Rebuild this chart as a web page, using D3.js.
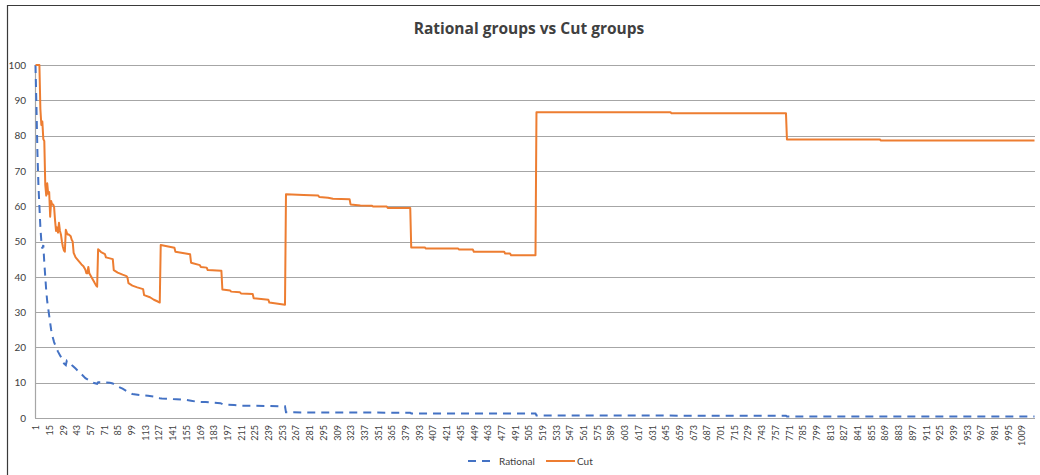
<!DOCTYPE html>
<html>
<head>
<meta charset="utf-8">
<script src="https://cdn.jsdelivr.net/npm/d3@7"></script>
<style>
  body { margin: 0; background: #fff; }
  svg text { font-family: Lato, "Open Sans", sans-serif; fill: #404040; }
</style>
</head>
<body>
<svg id="chart" width="1040" height="475"></svg>
<script>
// number of categories on the x axis
var nCats = 1022;

// Cut series (category index / value)
var cutIdx = [1, 5, 6, 7, 8, 9, 10, 11, 12, 13, 14, 15, 16, 17, 18, 19, 20, 21, 22, 23, 24, 25, 26, 27, 28, 29, 30, 31,
  32, 33, 34, 35, 37, 38, 39, 40, 42, 45, 48, 50, 52, 53, 54, 55, 56, 57, 59, 61, 62, 63, 64,
  65, 68, 72, 73, 80, 81, 85, 90, 94, 95, 96, 100, 105, 111, 112, 118, 122, 126, 128,
  129, 143, 144, 159, 160, 169, 170, 176, 177, 191, 192, 200, 201, 210, 211, 223, 224, 239, 240, 256,
  257, 275, 290, 291, 300, 305, 322, 323, 333, 345, 346, 360, 361, 384,
  385, 399, 400, 433, 434, 448, 449, 480, 481, 486, 487, 512,
  513, 650, 651, 768, 769, 864, 865, 1022];
var cutVal = [100, 100, 87.5, 83, 84, 79, 78.5, 66, 63, 66.5, 63.5, 64, 57, 61.5, 60.5, 60.5, 59.8, 56, 53, 54, 52.5, 55.3, 53, 52, 50, 48.5, 47.5, 47.1,
  53.3, 52.5, 52, 52, 51.5, 50.5, 50, 46.8, 45.5, 44.5, 43.5, 43, 42, 41, 41, 42.8, 41, 40.5, 39.5, 38.5, 38, 37.5, 37.2,
  47.8, 47, 46.4, 45.5, 45, 41.9, 41.2, 40.6, 40.2, 39.8, 38.2, 37.5, 37, 36.5, 34.8, 34.2, 33.5, 33, 32.7,
  49, 48.2, 47.1, 46.4, 44, 43.3, 42.8, 42.6, 41.9, 41.7, 36.4, 36.1, 35.8, 35.6, 35.3, 35.1, 33.9, 33.5, 32.7, 32.1,
  63.4, 63.2, 63.0, 62.6, 62.4, 62.1, 62.0, 60.5, 60.2, 60.1, 59.9, 59.9, 59.5, 59.5,
  48.3, 48.3, 48.0, 48.0, 47.7, 47.7, 47.1, 47.1, 46.6, 46.6, 46.1, 46.1,
  86.6, 86.6, 86.3, 86.3, 78.9, 78.9, 78.6, 78.6];

// Rational series
var ratIdx = [1, 2, 3, 4, 5, 6, 7, 8, 9, 10, 11, 12, 13, 14, 15, 16, 17, 18, 19, 20, 22, 24, 26, 28, 30, 32,
  33, 35, 38, 42, 45, 48, 52, 56, 60, 64,
  65, 70, 77, 80, 83, 90, 95, 100, 108, 116, 124, 128,
  130, 145, 155, 160, 166, 175, 190, 193, 204, 212, 220, 240, 256,
  257, 384, 385, 512, 513, 768, 769, 1022];
var ratVal = [100, 88, 75, 66, 60, 54, 50, 48, 49, 44, 40, 36, 33, 31, 29, 27, 25, 23.5, 22.5, 21.5, 20, 18.8, 17.8, 16.8, 15.5, 15.0,
  16.2, 15.8, 15, 14, 13.2, 12.4, 11.3, 10.6, 10.0, 9.7,
  10.1, 10.1, 10.0, 9.8, 9.2, 8.3, 7.5, 6.8, 6.5, 6.3, 6.0, 5.6,
  5.5, 5.3, 5.1, 4.9, 4.6, 4.5, 4.2, 3.8, 3.7, 3.5, 3.5, 3.4, 3.3,
  1.6, 1.5, 1.3, 1.3, 0.7, 0.65, 0.4, 0.4];

var yTicks = [0, 10, 20, 30, 40, 50, 60, 70, 80, 90, 100];
var xTickStep = 14;
var seriesNames = ["Rational", "Cut"];
var seriesColors = {"Rational": "#4472c4", "Cut": "#ed7d31"};

function draw() {
    var svg = d3.select("#chart");
    var left = 35, right = 1035, plotTop = 65, bottom = 418;

    // outer chart frame (only top and left edges show in the picture)
    svg.append("line")
        .attr("x1", 7.5).attr("x2", 1040)
        .attr("y1", 5.5).attr("y2", 5.5)
        .attr("stroke", "#3a3a3a")
        .attr("stroke-width", 1.2);
    svg.append("line")
        .attr("x1", 7.5).attr("x2", 7.5)
        .attr("y1", 5).attr("y2", 475)
        .attr("stroke", "#3a3a3a")
        .attr("stroke-width", 1.2);

    var x = d3.scaleLinear().domain([0.5, nCats + 0.5]).range([left, right]);
    var y = d3.scaleLinear().domain([0, 100]).range([bottom, plotTop]);

    // gridlines
    svg.append("g")
        .selectAll("line")
        .data(yTicks)
        .enter()
        .append("line")
        .attr("x1", left).attr("x2", right)
        .attr("y1", d => Math.round(y(d)) + 0.5)
        .attr("y2", d => Math.round(y(d)) + 0.5)
        .attr("stroke", "#a6a6a6")
        .attr("stroke-width", 1.2);

    // value axis line
    svg.append("line")
        .attr("x1", left + 0.5).attr("x2", left + 0.5)
        .attr("y1", plotTop).attr("y2", bottom)
        .attr("stroke", "#a6a6a6")
        .attr("stroke-width", 1.2);

    // y axis labels
    var yAxis = d3.axisLeft(y).tickValues(yTicks).tickSize(0).tickPadding(9);
    svg.append("g")
        .attr("transform", "translate(" + left + ",0)")
        .call(yAxis)
        .call(g => g.select(".domain").remove())
        .selectAll("text")
        .style("font-size", "10px")
        .style("font-family", "Lato, sans-serif")
        .attr("fill", "#404040");

    // x axis labels, rotated
    var xAxis = d3.axisBottom(x)
        .tickValues(d3.range(1, nCats + 1, xTickStep))
        .tickSize(0)
        .tickFormat(d3.format("d"));
    svg.append("g")
        .attr("transform", "translate(0," + bottom + ")")
        .call(xAxis)
        .call(g => g.select(".domain").remove())
        .selectAll("text")
        .style("font-size", "9px")
        .style("font-family", "Lato, sans-serif")
        .attr("fill", "#404040")
        .attr("text-anchor", "end")
        .attr("transform", "rotate(-90)")
        .attr("x", -7)
        .attr("y", 0)
        .attr("dy", "0.35em");

    function pts(idx, vals) {
        return idx.map((d, i) => [d, vals[i]]);
    }

    var line = d3.line()
        .x(d => x(d[0]))
        .y(d => y(d[1]));

    svg.append("path")
        .datum(pts(ratIdx, ratVal))
        .attr("d", line)
        .attr("fill", "none")
        .attr("stroke", seriesColors.Rational)
        .attr("stroke-width", 2)
        .attr("stroke-dasharray", "8,6");

    svg.append("path")
        .datum(pts(cutIdx, cutVal))
        .attr("d", line)
        .attr("fill", "none")
        .attr("stroke", seriesColors.Cut)
        .attr("stroke-width", 2)
        .attr("stroke-linejoin", "round");

    // title
    svg.append("text")
        .attr("x", 529)
        .attr("y", 34)
        .attr("text-anchor", "middle")
        .style("font-family", "'Open Sans', sans-serif")
        .style("font-size", "15.5px")
        .style("font-weight", "bold")
        .attr("fill", "#262626")
        .text("Rational groups vs Cut groups");

    // legend
    var legend = svg.append("g").attr("transform", "translate(468,461)");
    var lx = [0, 78];
    var lw = [24, 29];
    seriesNames.forEach(function(name, i) {
        legend.append("line")
            .attr("x1", lx[i]).attr("x2", lx[i] + lw[i])
            .attr("y1", 0).attr("y2", 0)
            .attr("stroke", seriesColors[name])
            .attr("stroke-width", 2)
            .attr("stroke-dasharray", name == "Rational" ? "8,6" : null);
        legend.append("text")
            .attr("x", lx[i] + lw[i] + (name == "Rational" ? 7 : 2))
            .attr("y", 0)
            .attr("dy", "0.35em")
            .style("font-size", "10px")
            .attr("fill", "#404040")
            .text(name);
    });
}

draw();
</script>
</body>
</html>
